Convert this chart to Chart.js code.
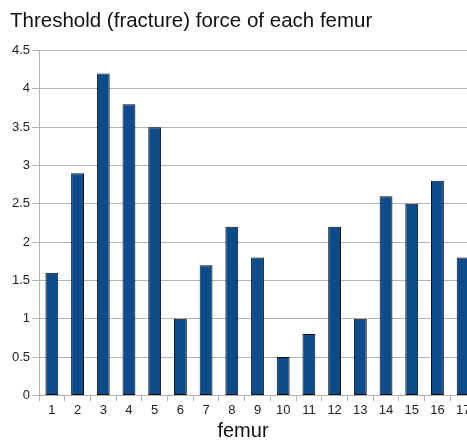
<!DOCTYPE html>
<html>
<head>
<meta charset="utf-8">
<script src="https://cdn.jsdelivr.net/npm/chart.js@4.4.1/dist/chart.umd.min.js"></script>
<style>
html,body{margin:0;padding:0;background:#fff;overflow:hidden;width:467px;height:440px;}
#wrap{width:476px;height:443px;}
</style>
</head>
<body>
<div id="wrap"><canvas id="c" width="476" height="443"></canvas></div>
<script>
const categories = ['1','2','3','4','5','6','7','8','9','10','11','12','13','14','15','16','17'];
const forceValues = [1.6, 2.9, 4.2, 3.8, 3.5, 1.0, 1.7, 2.2, 1.8, 0.5, 0.8, 2.2, 1.0, 2.6, 2.5, 2.8, 1.8];
const chartTitle = 'Threshold (fracture) force of each femur';
const xAxisTitle = 'femur';

const FONT = '"Liberation Sans", Arial, sans-serif';
new Chart(document.getElementById('c'), {
  type: 'bar',
  data: {
    labels: categories,
    datasets: [{
      data: forceValues,
      backgroundColor: '#0e4b8b',
      borderColor: '#0a0a0a',
      borderWidth: 1,
      borderSkipped: false,
      barPercentage: 0.5,
      categoryPercentage: 1.0
    }]
  },
  options: {
    responsive: false,
    animation: false,
    devicePixelRatio: 1,
    layout: { padding: { left: 10, right: 0, top: 0, bottom: 0 } },
    plugins: {
      legend: { display: false },
      tooltip: { enabled: false },
      title: {
        display: true, text: chartTitle, align: 'start',
        color: '#111', font: { family: FONT, size: 20.5, weight: 'normal' },
        padding: { top: 9, bottom: 17 }
      },
      subtitle: {
        display: true, text: xAxisTitle, position: 'bottom', align: 'center',
        color: '#111', font: { family: FONT, size: 20, weight: 'normal' },
        padding: { top: 0, bottom: 0 }
      }
    },
    scales: {
      x: {
        offset: true,
        grid: { offset: true, drawOnChartArea: false, drawTicks: true, tickLength: 6, color: '#b3b3b3' },
        border: { color: '#b3b3b3' },
        ticks: { color: '#222', font: { family: FONT, size: 13 }, padding: 1, maxRotation: 0, autoSkip: false }
      },
      y: {
        min: 0, max: 4.5,
        afterFit: s => { s.width = 29; },
        grid: { color: '#b3b3b3', tickLength: 7 },
        border: { color: '#b3b3b3' },
        ticks: { stepSize: 0.5, color: '#222', font: { family: FONT, size: 13 }, padding: 2,
                 callback: v => String(Number(v)) }
      }
    }
  }
});
</script>
</body>
</html>
